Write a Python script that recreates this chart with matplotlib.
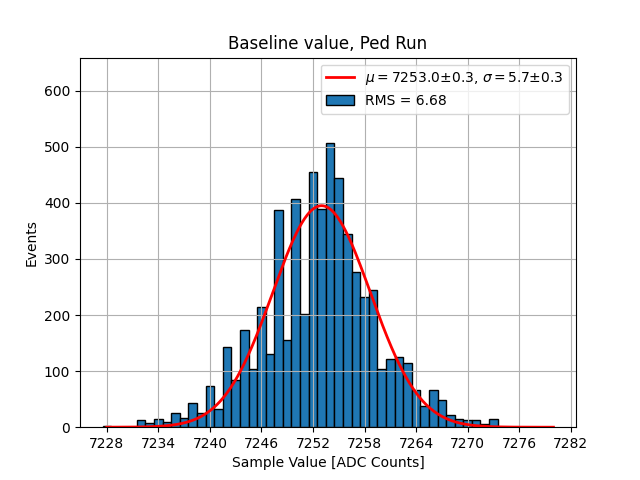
import numpy as np
import matplotlib
matplotlib.use("Agg")
import matplotlib.pyplot as plt

# Histogram of sample values (bin centres, counts)
bin_centers = np.arange(7228, 7274)
counts = [3, 0, 0, 0, 12, 7, 14, 10, 26, 16,
          44, 25, 73, 32, 143, 84, 173, 103, 215, 130,
          388, 155, 407, 202, 455, 389, 507, 444, 345, 277,
          233, 245, 104, 121, 125, 114, 66, 37, 66, 48,
          22, 15, 12, 12, 5, 14]

# Gaussian fit result
fit_mu = 7253.0
fit_sigma = 5.7
fit_amp = 395.0
fit_range = (7228, 7280)

fit_label = r"$\mu=$7253.0±0.3, $\sigma=$5.7±0.3"
rms_label = "RMS = 6.68"
xtick_values = np.arange(7228, 7283, 6)

fig, ax = plt.subplots(figsize=(6.4, 4.8), dpi=100)

ax.bar(bin_centers, counts, width=1.0, color="#1f77b4", edgecolor="black",
       linewidth=1.0, label=rms_label)

xfit = np.linspace(fit_range[0], fit_range[1], 500)
yfit = fit_amp * np.exp(-(xfit - fit_mu) ** 2 / (2 * fit_sigma ** 2))
ax.plot(xfit, yfit, color="red", linewidth=2, label=fit_label)

ax.set_ylim(0, 1.3 * max(counts))
ax.set_xticks(xtick_values)
ax.grid(True)

ax.set_title("Baseline value, Ped Run")
ax.set_xlabel("Sample Value [ADC Counts]")
ax.set_ylabel("Events")
ax.legend(loc="upper right")

fig.savefig("out.png", dpi=100)
